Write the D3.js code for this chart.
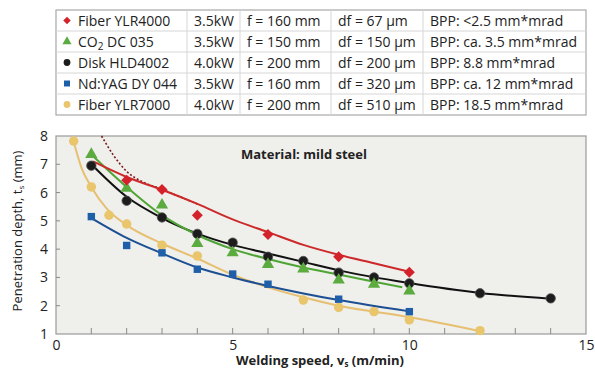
<!DOCTYPE html>
<html>
<head>
<meta charset="utf-8">
<script src="https://cdn.jsdelivr.net/npm/d3@7"></script>
<style>
  body { margin: 0; background: #fff; }
  text { font-family: "Open Sans", sans-serif; }
</style>
</head>
<body>
<svg id="chart"></svg>
<script>
// measured points
var fiber4000X = [2, 3, 4, 6, 8, 10];
var fiber4000Y = [6.44, 6.11, 5.2, 4.52, 3.73, 3.18];
var co2X = [1, 2, 3, 4, 5, 6, 7, 8, 9, 10];
var co2Y = [7.35, 6.15, 5.56, 4.2, 3.87, 3.46, 3.3, 2.91, 2.76, 2.52];
var diskX = [1, 2, 3, 4, 5, 6, 7, 8, 9, 10, 12, 14];
var diskY = [6.95, 5.71, 5.12, 4.54, 4.23, 3.73, 3.58, 3.17, 3.0, 2.79, 2.44, 2.26];
var ndyagX = [1, 2, 3, 4, 5, 6, 8, 10];
var ndyagY = [5.15, 4.13, 3.87, 3.29, 3.12, 2.76, 2.23, 1.79];
var fiber7000X = [0.5, 1, 1.5, 2, 3, 4, 7, 8, 9, 10, 12];
var fiber7000Y = [7.82, 6.2, 5.2, 4.89, 4.14, 3.76, 2.2, 1.94, 1.79, 1.5, 1.12];

// fit curves
var fitRedX = [1.05, 2, 3, 4, 5, 6, 7, 8, 9, 10];
var fitRedY = [7.1, 6.55, 6.1, 5.6, 5.05, 4.6, 4.15, 3.8, 3.5, 3.2];
var fitGreenX = [1, 2, 3, 4, 5, 6, 7, 8, 9, 9.8];
var fitGreenY = [7.35, 6.2, 5.2, 4.5, 4.0, 3.65, 3.35, 3.1, 2.85, 2.65];
var fitBlackX = [1, 2, 3, 4, 5, 6, 7, 8, 10, 12, 14];
var fitBlackY = [7.0, 5.85, 5.1, 4.55, 4.15, 3.85, 3.55, 3.25, 2.8, 2.45, 2.25];
var fitBlueX = [1, 2, 3, 4, 5, 6, 8, 10];
var fitBlueY = [5.1, 4.4, 3.85, 3.35, 3.0, 2.7, 2.2, 1.8];
var fitYellowX = [0.5, 0.73, 1, 1.43, 2, 3, 4, 5, 6, 7, 8, 10, 12];
var fitYellowY = [7.8, 6.85, 6.2, 5.44, 4.85, 4.2, 3.67, 3.1, 2.65, 2.3, 2.0, 1.6, 1.1];
var dashX = [1.29, 1.62, 2, 2.5, 3, 3.5, 4];
var dashY = [8.0, 7.33, 6.75, 6.35, 6.12, 5.85, 5.6];

var xTicks = [0, 5, 10, 15];
var yTicks = [1, 2, 3, 4, 5, 6, 7, 8];

var legendNames = ['Fiber YLR4000', 'CO2 DC 035', 'Disk HLD4002', 'Nd:YAG DY 044', 'Fiber YLR7000'];
var legendPower = ['3.5kW', '3.5kW', '4.0kW', '3.5kW', '4.0kW'];
var legendF = ['f = 160 mm', 'f = 150 mm', 'f = 200 mm', 'f = 160 mm', 'f = 200 mm'];
var legendDf = ['df = 67 µm', 'df = 150 µm', 'df = 200 µm', 'df = 320 µm', 'df = 510 µm'];
var legendBpp = ['BPP: <2.5 mm*mrad', 'BPP: ca. 3.5 mm*mrad', 'BPP: 8.8 mm*mrad', 'BPP: ca. 12 mm*mrad', 'BPP: 18.5 mm*mrad'];

var colors = ['#d3222a', '#5bab3e', '#1c1c1c', '#1f5ea8', '#e9c56c'];
var lineColors = ['#cc2a2a', '#4ea534', '#111111', '#1d4f93', '#e6c070'];
var shapes = [d3.symbolSquare, d3.symbolTriangle, d3.symbolCircle, d3.symbolSquare, d3.symbolCircle];
var rotations = [45, 0, 0, 0, 0];

var svgWidth = 595, svgHeight = 370;
var svg = d3.select('#chart').attr('width', svgWidth).attr('height', svgHeight);

var plotLeft = 56, plotRight = 586, plotTop = 136, plotBottom = 334;

var xScale = d3.scaleLinear().domain([0, 15]).range([plotLeft, plotRight]);
var yScale = d3.scaleLinear().domain([1, 8]).range([plotBottom, plotTop]);

// plot background
svg.append('rect')
    .attr('x', plotLeft).attr('y', plotTop)
    .attr('width', plotRight - plotLeft).attr('height', plotBottom - plotTop)
    .attr('fill', '#efefec')
    .attr('stroke', '#9a9a9a').attr('stroke-width', 1.2);

// minor ticks inside
svg.append('g')
    .selectAll('line')
    .data(d3.range(1, 15))
    .enter()
    .append('line')
    .attr('x1', d => xScale(d)).attr('x2', d => xScale(d))
    .attr('y1', plotBottom - 6).attr('y2', plotBottom)
    .attr('stroke', '#8a8a8a').attr('stroke-width', 1);

svg.append('g')
    .selectAll('line')
    .data(yTicks.slice(1, -1))
    .enter()
    .append('line')
    .attr('x1', plotLeft).attr('x2', plotLeft + 4)
    .attr('y1', d => yScale(d)).attr('y2', d => yScale(d))
    .attr('stroke', '#8a8a8a').attr('stroke-width', 1);

// axes labels
var xAxis = d3.axisBottom(xScale).tickValues(xTicks).tickSize(0).tickPadding(6)
    .tickFormat(d3.format('d'));
var gx = svg.append('g').attr('transform', `translate(0,${plotBottom})`).call(xAxis);
gx.select('.domain').remove();
gx.selectAll('text').attr('font-size', 14).attr('fill', '#222').style('font-family', '"Open Sans", sans-serif');

var yAxis = d3.axisLeft(yScale).tickValues(yTicks).tickSize(0).tickPadding(8)
    .tickFormat(d3.format('d'));
var gy = svg.append('g').attr('transform', `translate(${plotLeft},0)`).call(yAxis);
gy.select('.domain').remove();
gy.selectAll('text').attr('font-size', 14).attr('fill', '#222').style('font-family', '"Open Sans", sans-serif');

var xl = svg.append('text')
    .attr('x', 320).attr('y', 365)
    .attr('text-anchor', 'middle')
    .attr('font-size', 13).attr('font-weight', 'bold').attr('fill', '#222');
xl.append('tspan').text('Welding speed, v');
xl.append('tspan').text('s').attr('font-size', 8).attr('dy', 2);
xl.append('tspan').text(' (m/min)').attr('dy', -2);

var yl = svg.append('text')
    .attr('transform', 'translate(22,231) rotate(-90)')
    .attr('text-anchor', 'middle')
    .attr('font-size', 13).attr('fill', '#222');
yl.append('tspan').text('Penetration depth, t');
yl.append('tspan').text('s').attr('font-size', 8).attr('dy', 2);
yl.append('tspan').text(' (mm)').attr('dy', -2);

svg.append('text')
    .attr('x', 241).attr('y', 159)
    .attr('font-size', 13).attr('font-weight', 'bold').attr('fill', '#222')
    .text('Material: mild steel');

// fit lines
var line = d3.line()
    .x(d => xScale(d[0]))
    .y(d => yScale(d[1]))
    .curve(d3.curveMonotoneX);

var fits = [
    [fitRedX, fitRedY],
    [fitGreenX, fitGreenY],
    [fitBlackX, fitBlackY],
    [fitBlueX, fitBlueY],
    [fitYellowX, fitYellowY]
];

var zip = (xs, ys) => xs.map((x, i) => [x, ys[i]]);

svg.append('path')
    .attr('d', line(zip(dashX, dashY)))
    .attr('fill', 'none')
    .attr('stroke', '#7a1b1b').attr('stroke-width', 1.6)
    .attr('stroke-dasharray', '2,2');

// yellow, blue, black, green, red order
[4, 3, 2, 1, 0].forEach(function (k) {
    svg.append('path')
        .attr('d', line(zip(fits[k][0], fits[k][1])))
        .attr('fill', 'none')
        .attr('stroke', lineColors[k]).attr('stroke-width', 2);
});

// markers
var series = [
    [fiber4000X, fiber4000Y],
    [co2X, co2Y],
    [diskX, diskY],
    [ndyagX, ndyagY],
    [fiber7000X, fiber7000Y]
];
var sizes = [60, 65, 70, 55, 70];

[4, 3, 2, 1, 0].forEach(function (k) {
    svg.append('g')
        .selectAll('path')
        .data(zip(series[k][0], series[k][1]))
        .enter()
        .append('path')
        .attr('d', d3.symbol().type(shapes[k]).size(sizes[k]))
        .attr('transform', d => `translate(${xScale(d[0])},${yScale(d[1])}) rotate(${rotations[k]})`)
        .attr('fill', colors[k])
        .attr('stroke', k === 2 ? '#555' : 'none')
        .attr('stroke-width', 0.8);
});

// legend table
var colEdges = [56, 187, 240, 331, 423, 586];
var rowTop = 10, rowH = 21;
var table = svg.append('g');

table.append('rect')
    .attr('x', colEdges[0]).attr('y', rowTop)
    .attr('width', colEdges[5] - colEdges[0]).attr('height', rowH * 5)
    .attr('fill', '#fff').attr('stroke', '#a8a8a8').attr('stroke-width', 1.2);

table.selectAll('.hl')
    .data(d3.range(1, 5))
    .enter()
    .append('line')
    .attr('x1', colEdges[0]).attr('x2', colEdges[5])
    .attr('y1', d => rowTop + d * rowH).attr('y2', d => rowTop + d * rowH)
    .attr('stroke', '#d6d6d6');

table.selectAll('.vl')
    .data(colEdges.slice(1, 5))
    .enter()
    .append('line')
    .attr('x1', d => d).attr('x2', d => d)
    .attr('y1', rowTop).attr('y2', rowTop + rowH * 5)
    .attr('stroke', '#d6d6d6');

var cols = [legendNames, legendPower, legendF, legendDf, legendBpp];
legendNames.forEach(function (name, i) {
    var cy = rowTop + i * rowH + rowH / 2;
    table.append('path')
        .attr('d', d3.symbol().type(shapes[i]).size(i === 0 ? 28 : 36))
        .attr('transform', `translate(${colEdges[0] + 11},${cy}) rotate(${rotations[i]})`)
        .attr('fill', colors[i]);
    cols.forEach(function (col, c) {
        var t = table.append('text')
            .attr('x', c === 0 ? colEdges[0] + 22 : colEdges[c] + 7)
            .attr('y', cy + 5)
            .attr('font-size', 14).attr('fill', '#222');
        if (c === 0 && i === 1) {
            t.append('tspan').text('CO');
            t.append('tspan').text('2').attr('font-size', 10).attr('dy', 3);
            t.append('tspan').text(' DC 035').attr('dy', -3);
        } else {
            t.text(col[i]);
        }
    });
});
</script>
</body>
</html>
